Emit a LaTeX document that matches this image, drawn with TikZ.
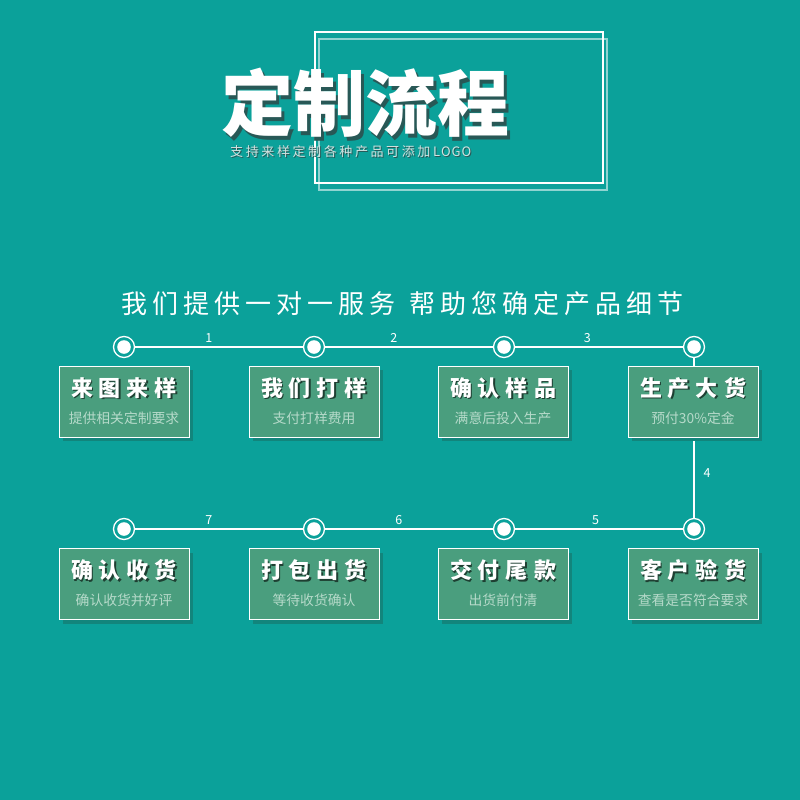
\documentclass[tikz,border=0pt]{standalone}
\usepackage{fontspec}
\setmainfont{Noto Sans CJK SC}
\newfontfamily\cjk{Noto Sans CJK SC}
\usetikzlibrary{shadows,calc}
\definecolor{bg}{RGB}{11,161,154}
\definecolor{boxfill}{RGB}{74,158,126}
\definecolor{boxshadow}{RGB}{18,133,124}
\definecolor{subcol}{RGB}{182,218,202}
\definecolor{titleshadow}{RGB}{40,88,86}
\definecolor{subtitlecol}{RGB}{210,226,224}
\tikzset{
  dot/.style={circle, draw=white, line width=1.3pt, fill=bg, minimum size=21pt, inner sep=0pt,
    path picture={\fill[white] (path picture bounding box.center) circle (6.8pt);}},
  stepbox/.style={rectangle, draw=white, line width=0.8pt, fill=boxfill, minimum width=130pt, minimum height=71pt, inner sep=0pt,
    drop shadow={shadow xshift=4pt, shadow yshift=-4pt, fill=boxshadow, opacity=1}},
  link/.style={white, line width=1.8pt},
  num/.style={text=white, font=\cjk\fontsize{12.5}{12.5}\selectfont, inner sep=0pt},
  boxtitle/.style={text=white, font=\cjk\bfseries\fontsize{22}{22}\selectfont, inner sep=0pt},
  boxtitleshadow/.style={text=black!60!boxfill, font=\cjk\bfseries\fontsize{22}{22}\selectfont, inner sep=0pt},
  boxsub/.style={text=subcol, font=\cjk\fontsize{13.8}{13.8}\selectfont, inner sep=0pt},
}
\newcommand{\ksp}{\kern6pt}
\newcommand{\hk}{\kern5pt}
\newcommand{\sk}{\kern2.6pt}
\newcommand{\mkstep}[5]{% name, x, y-center, title, subtitle
  \node[stepbox] (#1) at (#2,#3) {};
  \node[boxtitleshadow] (#1ts) at ($(#2,#3)+(1.2,-12.3)$) {#4};
  \node[boxtitle] (#1t) at ($(#2,#3)+(0,-13.5)$) {#4};
  \node[boxsub] (#1s) at ($(#2,#3)+(0,16.5)$) {#5};
}
\begin{document}
\begin{tikzpicture}[x=1pt,y=-1pt]
\fill[bg] (0,0) rectangle (800,800);
\useasboundingbox (0,0) rectangle (800,800);
% title frames
\draw[white, line width=1.2pt] (315,32) rectangle (603,183);
\draw[white, opacity=0.55, line width=1.2pt] (319,39) rectangle (607,190);
% title with extruded shadow
\node[text=titleshadow, font=\cjk\bfseries\fontsize{72}{72}\selectfont, inner sep=0pt] (titleshadow) at (368.5,106.5) {定制流程};
\node[text=white, font=\cjk\bfseries\fontsize{72}{72}\selectfont, inner sep=0pt] (title) at (365,103) {定制流程};
\node[text=titleshadow, font=\cjk\fontsize{13}{13}\selectfont, inner sep=0pt, anchor=west] (subtitleshadow) at (231,153) {支\sk 持\sk 来\sk 样\sk 定\sk 制\sk 各\sk 种\sk 产\sk 品\sk 可\sk 添\sk 加\sk L\kern1pt O\kern1pt G\kern1pt O};
\node[text=subtitlecol, font=\cjk\fontsize{13}{13}\selectfont, inner sep=0pt, anchor=west] (subtitle) at (230,152) {支\sk 持\sk 来\sk 样\sk 定\sk 制\sk 各\sk 种\sk 产\sk 品\sk 可\sk 添\sk 加\sk L\kern1pt O\kern1pt G\kern1pt O};
% headline
\node[text=white, font=\cjk\fontsize{26}{26}\selectfont, inner sep=0pt] (headline) at (402.5,304) {我\hk 们\hk 提\hk 供\hk 一\hk 对\hk 一\hk 服\hk 务\kern14pt 帮\hk 助\hk 您\hk 确\hk 定\hk 产\hk 品\hk 细\hk 节};
% dots
\node[dot] (c1) at (124,347) {};
\node[dot] (c2) at (314,347) {};
\node[dot] (c3) at (504,347) {};
\node[dot] (c4) at (694,347) {};
\node[dot] (c5) at (694,529) {};
\node[dot] (c6) at (504,529) {};
\node[dot] (c7) at (314,529) {};
\node[dot] (c8) at (124,529) {};
% links
\draw[link] (c1) -- node[num, pos=0.44, yshift=9pt] (n1) {1} (c2);
\draw[link] (c2) -- node[num, pos=0.41, yshift=9pt] (n2) {2} (c3);
\draw[link] (c3) -- node[num, pos=0.43, yshift=9pt] (n3) {3} (c4);
\draw[link] (c4) -- node[num, pos=0.72, xshift=13pt] (n4) {4} (c5);
\draw[link] (c6) -- node[num, pos=0.48, yshift=9pt] (n5) {5} (c5);
\draw[link] (c7) -- node[num, pos=0.44, yshift=9pt] (n6) {6} (c6);
\draw[link] (c8) -- node[num, pos=0.44, yshift=9pt] (n7) {7} (c7);
% boxes
\mkstep{b1}{124}{401.5}{来\ksp 图\ksp 来\ksp 样}{提供相关定制要求}
\mkstep{b2}{314}{401.5}{我\ksp 们\ksp 打\ksp 样}{支付打样费用}
\mkstep{b3}{503}{401.5}{确\ksp 认\ksp 样\ksp 品}{满意后投入生产}
\mkstep{b4}{693}{401.5}{生\ksp 产\ksp 大\ksp 货}{预付30\%定金}
\mkstep{b5}{693}{584}{客\ksp 户\ksp 验\ksp 货}{查看是否符合要求}
\mkstep{b6}{503}{584}{交\ksp 付\ksp 尾\ksp 款}{出货前付清}
\mkstep{b7}{314}{584}{打\ksp 包\ksp 出\ksp 货}{等待收货确认}
\mkstep{b8}{124}{584}{确\ksp 认\ksp 收\ksp 货}{确认收货并好评}
\end{tikzpicture}
\end{document}
